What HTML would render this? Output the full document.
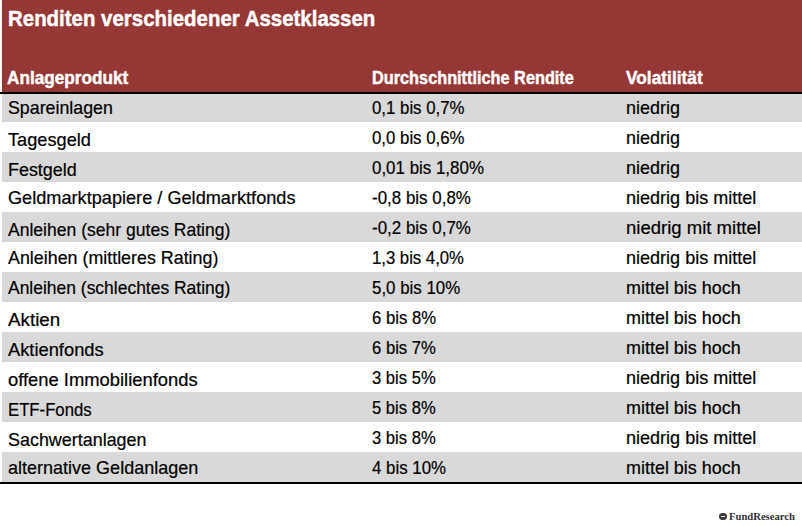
<!DOCTYPE html>
<html><head><meta charset="utf-8"><style>
html,body{margin:0;padding:0;background:#fff;width:802px;height:526px;overflow:hidden;position:relative}
body{font-family:"Liberation Sans",sans-serif;color:#000}
.t{position:absolute;white-space:nowrap;line-height:1;transform-origin:0 0;font-size:17.8px;-webkit-text-stroke:0.2px #000}
.b{-webkit-text-stroke:0.45px #fff}
.b{font-weight:bold;color:#fff}
.hdr{position:absolute;left:2px;top:0;width:800px;height:92px;background:#953735}
.line{position:absolute;left:0;width:802px;height:2px;background:#000}
.row{position:absolute;left:2px;width:800px;height:30px;background:#d9d9d9}
.foot{position:absolute;font-family:"Liberation Serif",serif;font-weight:bold;color:#333;white-space:nowrap;line-height:1;transform-origin:0 0}
</style></head><body>
<div class="hdr"></div>
<div class="row" style="top:92px"></div>
<div class="row" style="top:152px"></div>
<div class="row" style="top:212px"></div>
<div class="row" style="top:272px"></div>
<div class="row" style="top:332px"></div>
<div class="row" style="top:392px"></div>
<div class="row" style="top:452px"></div>
<div class="line" style="top:92px"></div>
<div class="line" style="top:481.5px;height:2.4px"></div>
<div class="t b" style="left:7.84px;top:7.90px;font-size:21.7px;transform:scaleX(0.9425)">Renditen verschiedener Assetklassen</div>
<div class="t b" style="left:7.42px;top:69.80px;transform:scaleX(0.9667)">Anlageprodukt</div>
<div class="t b" style="left:371.65px;top:69.80px;transform:scaleX(0.9162)">Durchschnittliche Rendite</div>
<div class="t b" style="left:625.66px;top:69.80px;transform:scaleX(0.9751)">Volatilität</div>
<div class="t" style="left:7.75px;top:99.70px;transform:scaleX(1.0005)">Spareinlagen</div>
<div class="t" style="left:371.99px;top:99.70px;transform:scaleX(0.9451)">0,1 bis 0,7%</div>
<div class="t" style="left:625.74px;top:99.70px;transform:scaleX(1.0098)">niedrig</div>
<div class="t" style="left:7.54px;top:131.60px;transform:scaleX(1.0233)">Tagesgeld</div>
<div class="t" style="left:371.99px;top:129.70px;transform:scaleX(0.9451)">0,0 bis 0,6%</div>
<div class="t" style="left:625.74px;top:129.70px;transform:scaleX(1.0098)">niedrig</div>
<div class="t" style="left:7.89px;top:161.60px;transform:scaleX(1.0076)">Festgeld</div>
<div class="t" style="left:371.99px;top:159.70px;transform:scaleX(0.9514)">0,01 bis 1,80%</div>
<div class="t" style="left:625.74px;top:159.70px;transform:scaleX(1.0098)">niedrig</div>
<div class="t" style="left:7.98px;top:189.60px;transform:scaleX(1.0207)">Geldmarktpapiere / Geldmarktfonds</div>
<div class="t" style="left:371.79px;top:189.70px;transform:scaleX(0.9526)">-0,8 bis 0,8%</div>
<div class="t" style="left:625.73px;top:189.70px;transform:scaleX(1.0143)">niedrig bis mittel</div>
<div class="t" style="left:8.05px;top:221.60px;transform:scaleX(0.9866)">Anleihen (sehr gutes Rating)</div>
<div class="t" style="left:371.79px;top:219.70px;transform:scaleX(0.9526)">-0,2 bis 0,7%</div>
<div class="t" style="left:625.70px;top:219.70px;transform:scaleX(1.0417)">niedrig mit mittel</div>
<div class="t" style="left:8.05px;top:249.60px;transform:scaleX(1.0041)">Anleihen (mittleres Rating)</div>
<div class="t" style="left:372.23px;top:249.70px;transform:scaleX(0.9396)">1,3 bis 4,0%</div>
<div class="t" style="left:625.73px;top:249.70px;transform:scaleX(1.0143)">niedrig bis mittel</div>
<div class="t" style="left:8.05px;top:279.60px;transform:scaleX(0.9822)">Anleihen (schlechtes Rating)</div>
<div class="t" style="left:372.29px;top:279.70px;transform:scaleX(0.9497)">5,0 bis 10%</div>
<div class="t" style="left:625.74px;top:279.70px;transform:scaleX(1.0094)">mittel bis hoch</div>
<div class="t" style="left:8.05px;top:311.60px;transform:scaleX(1.0580)">Aktien</div>
<div class="t" style="left:372.06px;top:309.70px;transform:scaleX(0.9383)">6 bis 8%</div>
<div class="t" style="left:625.74px;top:309.70px;transform:scaleX(1.0094)">mittel bis hoch</div>
<div class="t" style="left:8.05px;top:341.60px;transform:scaleX(1.0293)">Aktienfonds</div>
<div class="t" style="left:372.06px;top:339.70px;transform:scaleX(0.9368)">6 bis 7%</div>
<div class="t" style="left:625.74px;top:339.70px;transform:scaleX(1.0094)">mittel bis hoch</div>
<div class="t" style="left:8.23px;top:371.60px;transform:scaleX(1.0330)">offene Immobilienfonds</div>
<div class="t" style="left:372.30px;top:369.70px;transform:scaleX(0.9333)">3 bis 5%</div>
<div class="t" style="left:625.73px;top:369.70px;transform:scaleX(1.0143)">niedrig bis mittel</div>
<div class="t" style="left:7.99px;top:401.60px;transform:scaleX(0.9406)">ETF-Fonds</div>
<div class="t" style="left:372.30px;top:399.70px;transform:scaleX(0.9333)">5 bis 8%</div>
<div class="t" style="left:625.74px;top:399.70px;transform:scaleX(1.0094)">mittel bis hoch</div>
<div class="t" style="left:7.74px;top:431.60px;transform:scaleX(1.0081)">Sachwertanlagen</div>
<div class="t" style="left:372.30px;top:429.70px;transform:scaleX(0.9333)">3 bis 8%</div>
<div class="t" style="left:625.73px;top:429.70px;transform:scaleX(1.0143)">niedrig bis mittel</div>
<div class="t" style="left:8.24px;top:459.70px;transform:scaleX(1.0129)">alternative Geldanlagen</div>
<div class="t" style="left:371.53px;top:459.70px;transform:scaleX(0.9481)">4 bis 10%</div>
<div class="t" style="left:625.74px;top:459.70px;transform:scaleX(1.0094)">mittel bis hoch</div>
<div style="position:absolute;left:719px;top:513px;width:8px;height:7px;border-radius:3.5px;background:#3a3a3a"></div><div style="position:absolute;left:721px;top:515.8px;width:4px;height:1.4px;background:#e6e6e6"></div>
<div class="foot" style="left:728.7px;top:512.4px;font-size:10.5px;transform:scaleX(1.012)">FundResearch</div>
</body></html>
